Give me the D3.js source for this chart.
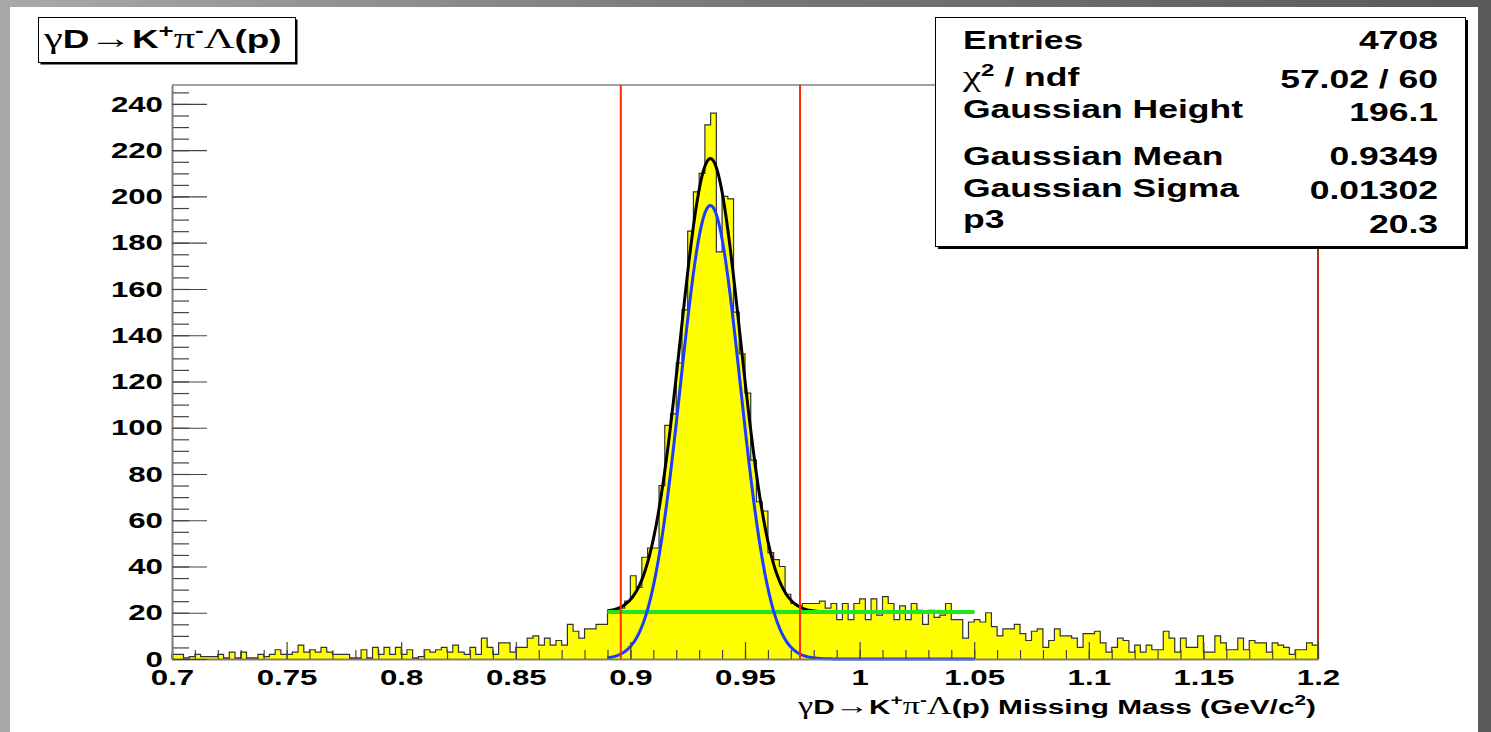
<!DOCTYPE html>
<html>
<head>
<meta charset="utf-8">
<script src="https://cdn.jsdelivr.net/npm/d3@7"></script>
<style>
  body { margin: 0; overflow: hidden; background: #fff; }
</style>
</head>
<body>
<svg id="chart"></svg>
<script>
var width = 1491;
var height = 732;

// histogram: 200 bins of 0.0025 between 0.7 and 1.2
var xRange = [0.7, 1.2];
var yRange = [0, 248.2];
var binWidth = 0.0025;
var counts = [
  2,2,0,1,2,1,1,1,2,0, 3,0,3,0,0,2,1,2,4,2,
  2,3,6,3,4,3,5,3,2,2, 2,0,0,4,0,5,2,5,2,5,
  2,4,0,1,4,3,4,5,3,6, 3,2,5,2,9,5,2,7,7,3,
  5,5,9,10,6,9,6,8,6,15, 12,9,13,13,15,15,21,21,22,25,
  36,31,44,48,48,75,101,106,128,151, 185,202,210,231,236,176,200,199,150,132,
  115,86,68,64,46,43,40,28,24,23, 24,24,24,25,22,24,17,24,17,24,
  26,17,26,19,27,24,17,23,17,24, 21,15,21,18,19,24,17,17,9,16,
  17,16,20,14,10,13,13,15,11,8, 12,13,5,8,13,10,10,9,5,11,
  11,12,7,3,5,9,8,3,6,3, 6,4,4,12,9,3,9,5,5,10,
  3,3,10,7,4,4,9,4,8,7, 7,3,7,6,5,2,4,4,7,6
];

var xTickValues = [0.7, 0.75, 0.8, 0.85, 0.9, 0.95, 1.0, 1.05, 1.1, 1.15, 1.2];
var xTickLabels = ["0.7", "0.75", "0.8", "0.85", "0.9", "0.95", "1", "1.05", "1.1", "1.15", "1.2"];
var yTickValues = [0, 20, 40, 60, 80, 100, 120, 140, 160, 180, 200, 220, 240];

// fit: gaus(height, mean, sigma) + p3, fitted between 0.89 and 1.05
var fitParams = [196.1, 0.9349, 0.01302, 20.3];
var fitRange = [0.89, 1.05];
var cutLines = [0.8958, 0.974, 1.2];

var statsLabels = ["Entries", "chi2", "Gaussian Height", "Gaussian Mean", "Gaussian Sigma", "p3"];
var statsValues = ["4708", "57.02 / 60", "196.1", "0.9349", "0.01302", "20.3"];

var SX = 1.42; // the original canvas got stretched sideways
var sans = "'Liberation Sans', Arial, Helvetica, sans-serif";
var serif = "'Liberation Serif', 'Times New Roman', serif";

var svg = d3.select("#chart")
    .attr("width", width)
    .attr("height", height);

var defs = svg.append("defs");
var grad = defs.append("linearGradient").attr("id", "bg").attr("x1", "0").attr("x2", "1");
grad.append("stop").attr("offset", "0").attr("stop-color", "#a9a9a9");
grad.append("stop").attr("offset", "0.5").attr("stop-color", "#777");
grad.append("stop").attr("offset", "1").attr("stop-color", "#5a5a5a");

svg.append("rect").attr("width", width).attr("height", height).attr("fill", "url(#bg)");
svg.append("rect").attr("x", 10).attr("y", 7).attr("width", 1468).attr("height", 725).attr("fill", "#fff");

var x = d3.scaleLinear().domain(xRange).range([172, 1318]);
var y = d3.scaleLinear().domain(yRange).range([659, 85]);

var label = function(g, px, py, anchor, size) {
    return g.append("text")
        .attr("transform", "translate(" + px + "," + py + ") scale(" + SX + ",1)")
        .attr("text-anchor", anchor)
        .style("font-family", sans)
        .style("font-weight", "bold")
        .style("font-size", size + "px")
        .style("fill", "#000");
}

var greek = function(t, s, size) {
    return t.append("tspan").text(s)
        .style("font-family", serif)
        .style("font-weight", "normal")
        .style("font-size", (size * 1.15) + "px");
}

var sup = function(t, s, size) {
    t.append("tspan").attr("dy", -size * 0.42).style("font-size", (size * 0.7) + "px").text(s);
    return size * 0.42;
}

// writes  γD→K+π-Λ(p)
var reaction = function(t, size) {
    greek(t, "γ", size);
    t.append("tspan").text("D");
    greek(t, "→", size);
    t.append("tspan").text("K");
    var up = sup(t, "+", size);
    greek(t, "π", size).attr("dy", up);
    up = sup(t, "-", size);
    greek(t, "Λ", size).attr("dy", up);
    t.append("tspan").text("(p)");
}

// frame
var frame = svg.append("g");
frame.append("line")
    .attr("x1", x(xRange[0])).attr("x2", x(xRange[1]))
    .attr("y1", y(yRange[1])).attr("y2", y(yRange[1]))
    .style("stroke", "#808080").style("stroke-width", 1.5);
frame.append("line")
    .attr("x1", x(xRange[0]) + 2).attr("x2", x(xRange[1]))
    .attr("y1", y(0) - 1).attr("y2", y(0) - 1)
    .style("stroke", "#ff2a00").style("stroke-width", 2);

// histogram
var bins = counts.map(function(c, i) {
    return { lo: xRange[0] + i * binWidth, hi: xRange[0] + (i + 1) * binWidth, c: c };
});
var histPath = d3.path();
histPath.moveTo(x(xRange[0]), y(0));
bins.forEach(function(b) {
    histPath.lineTo(x(b.lo), y(b.c));
    histPath.lineTo(x(b.hi), y(b.c));
});
histPath.lineTo(x(xRange[1]), y(0));

svg.append("path")
    .attr("d", histPath.toString())
    .attr("fill", "#ffff00")
    .style("stroke", "#333")
    .style("stroke-width", 1.2)
    .style("stroke-linejoin", "miter");

// fit curves
var gaus = function(v) {
    var z = (v - fitParams[1]) / fitParams[2];
    return fitParams[0] * Math.exp(-0.5 * z * z);
}
var fitX = d3.range(fitRange[0], fitRange[1] + 0.0001, 0.0005);
var curve = d3.line().x(function(d) { return x(d[0]); }).y(function(d) { return y(d[1]); });

svg.append("path")
    .attr("d", curve(fitX.map(function(v) { return [v, gaus(v) + fitParams[3]]; })))
    .attr("fill", "none").style("stroke", "#000").style("stroke-width", 3);

svg.append("path")
    .attr("d", curve(fitRange.map(function(v) { return [v, fitParams[3]]; })))
    .attr("fill", "none").style("stroke", "#1fe61f").style("stroke-width", 4);

svg.append("path")
    .attr("d", curve(fitX.map(function(v) { return [v, gaus(v)]; })))
    .attr("fill", "none").style("stroke", "#1a3cff").style("stroke-width", 3);

// cut lines
svg.selectAll(".cut")
    .data(cutLines)
    .enter().append("line")
    .attr("class", "cut")
    .attr("x1", function(d) { return x(d); })
    .attr("x2", function(d) { return x(d); })
    .attr("y1", y(yRange[1]))
    .attr("y2", y(0))
    .style("stroke", function(d, i) { return i == 2 ? "#b8281a" : "#ff2a00"; })
    .style("stroke-width", 2);

// axes
var xMinor = d3.axisBottom(x)
    .tickValues(d3.range(70, 121).map(function(v) { return v / 100; }))
    .tickSizeInner(-9).tickSizeOuter(0).tickFormat("");
var xMajor = d3.axisBottom(x)
    .tickValues(xTickValues)
    .tickSizeInner(-17).tickSizeOuter(0).tickPadding(10)
    .tickFormat(function(d, i) { return xTickLabels[i]; });

var yMinor = d3.axisLeft(y)
    .tickValues(d3.range(0, 246, 5))
    .tickSizeInner(-17).tickSizeOuter(0).tickFormat("");
var yMajor = d3.axisLeft(y)
    .tickValues(yTickValues)
    .tickSizeInner(-35).tickSizeOuter(0).tickPadding(9);

var gx = svg.append("g").attr("transform", "translate(0," + y(0) + ")");
gx.call(xMinor);
gx.append("g").call(xMajor);
var gy = svg.append("g").attr("transform", "translate(" + x(xRange[0]) + ",0)");
gy.call(yMinor);
gy.append("g").call(yMajor);

svg.selectAll(".domain").style("stroke", "#7a7a7a").style("stroke-width", 1.5);
svg.selectAll(".tick line").style("stroke", "#444").style("stroke-width", 1.2);

gx.selectAll(".tick text")
    .attr("transform", "scale(" + SX + ",1)")
    .style("font-family", sans).style("font-weight", "bold").style("font-size", "22px").style("fill", "#000");
gy.selectAll(".tick text")
    .attr("transform", "scale(" + SX + ",1)")
    .attr("x", -9 / SX)
    .style("font-family", sans).style("font-weight", "bold").style("font-size", "22px").style("fill", "#000");

// axis title
var xTitle = label(svg, 1316, 714, "end", 21);
reaction(xTitle, 21);
xTitle.append("tspan").text(" Missing Mass (GeV/c");
var up = sup(xTitle, "2", 21);
xTitle.append("tspan").attr("dy", up).text(")");

// title box
var tb = svg.append("g");
tb.append("rect").attr("x", 40.5).attr("y", 19.5).attr("width", 257).attr("height", 45).attr("fill", "#000");
tb.append("rect").attr("x", 38.5).attr("y", 17.5).attr("width", 257).attr("height", 45)
    .attr("fill", "#fff").style("stroke", "#000").style("stroke-width", 1);
var title = label(tb, 44, 48, "start", 26);
reaction(title, 26);

// stats box
var sb = svg.append("g");
sb.append("rect").attr("x", 938).attr("y", 20).attr("width", 530).attr("height", 229).attr("fill", "#000");
sb.append("rect").attr("x", 935.5).attr("y", 17.5).attr("width", 530).attr("height", 229)
    .attr("fill", "#fff").style("stroke", "#000").style("stroke-width", 1);

var labelY = [49, 86, 118, 165, 197, 228];
var valueY = [49, 88, 121, 165, 199, 233];
statsLabels.forEach(function(s, i) {
    var t = label(sb, 963, labelY[i], "start", 25);
    if (s == "chi2") {
        greek(t, "χ", 25);
        t.append("tspan").attr("dy", -10).style("font-size", "17px").text("2");
        t.append("tspan").attr("dy", 10).text(" / ndf");
    } else {
        t.text(s);
    }
    label(sb, 1438, valueY[i], "end", 25).text(statsValues[i]);
});
</script>
</body>
</html>
